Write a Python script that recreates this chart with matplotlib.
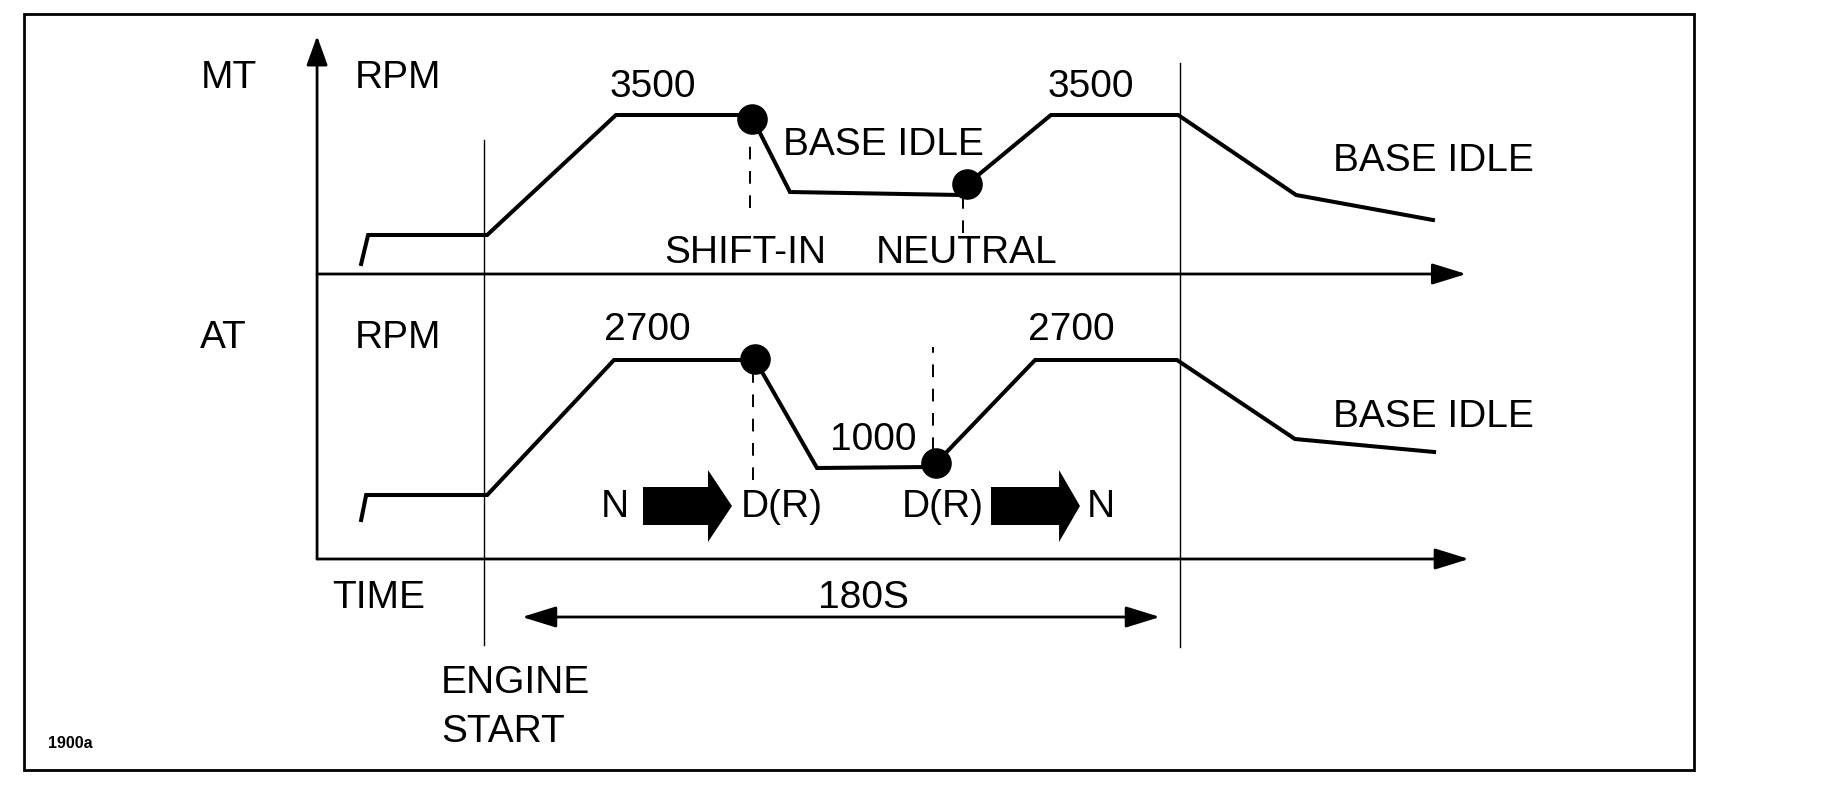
import matplotlib
matplotlib.use("Agg")
import matplotlib.pyplot as plt
from matplotlib.patches import Rectangle, Polygon, FancyArrowPatch

plt.rcParams['font.family'] = ['Liberation Sans', 'DejaVu Sans']

# schematic units: x = seconds after engine start, y = diagram height
mt_base = 531   # height of the MT time axis
at_base = 246   # height of the AT time axis

# MT rpm trace (level above its own time axis)
mt_time = [-31.8, -30.0, 0.8, 34.1, 69.0, 79.1, 123.1, 125.0, 146.6, 179.5, 210.0, 245.4]
mt_level = [10, 39, 39, 159, 159, 82, 79, 90, 159, 159, 79, 54]
mt_dot_time = [69.3, 124.9]
mt_dot_level = [155, 90]
mt_mark_time = [68.8, 123.9]
mt_mark_top = [131, 76]
mt_mark_bottom = [66, 41]

# AT rpm trace
at_time = [-31.8, -30.5, 0.8, 33.6, 70.1, 86.1, 115.3, 116.9, 142.5, 179.2, 209.7, 245.7]
at_level = [39, 64, 64, 199, 199, 91, 92, 96, 199, 199, 120, 107]
at_dot_time = [70.1, 116.9]
at_dot_level = [200, 96]
at_mark_time = [69.6, 116.1]
at_mark_top = [189, 212]
at_mark_bottom = [79, 109]

# gear change block arrows (AT panel)
shift_tail = [41.1, 131.1]
shift_neck = [57.9, 148.7]
shift_tip = [64.1, 154.1]
shift_level = 53
shift_body = 19
shift_head = 36

engine_start = 0
test_end = 180

fig = plt.figure(figsize=(18.49, 8.05), dpi=100)
ax = fig.add_axes([0, 0, 1, 1])
ax.set_xlim(-125.2, 353.0)
ax.set_ylim(0, 805)
ax.axis('off')

# outer frame
ax.add_patch(Rectangle((-119.0, 35), 431.9, 756, fill=False, lw=2, ec='black'))

# axes with arrow heads
ax.add_patch(FancyArrowPatch((-43.2, at_base), (-43.2, 769), arrowstyle='-|>,head_length=18,head_width=6.5',
                             mutation_scale=1, shrinkA=0, shrinkB=0, lw=2, color='black'))
ax.add_patch(FancyArrowPatch((-43.2, mt_base), (254.0, mt_base), arrowstyle='-|>,head_length=21,head_width=6.5',
                             mutation_scale=1, shrinkA=0, shrinkB=0, lw=2, color='black'))
ax.add_patch(FancyArrowPatch((-43.2, at_base), (254.7, at_base), arrowstyle='-|>,head_length=21,head_width=6.5',
                             mutation_scale=1, shrinkA=0, shrinkB=0, lw=2, color='black'))
ax.add_patch(FancyArrowPatch((9.8, 188), (174.8, 188), arrowstyle='<|-|>,head_length=21,head_width=6.5',
                             mutation_scale=1, shrinkA=0, shrinkB=0, lw=2, color='black'))

# engine start and end-of-test lines
ax.plot([engine_start, engine_start], [160, 665], color='black', lw=1)
ax.plot([test_end, test_end], [158, 742], color='black', lw=1)

# rpm traces
ax.plot(mt_time, [mt_base + v for v in mt_level], color='black', lw=2.9, solid_joinstyle='miter')
ax.plot(at_time, [at_base + v for v in at_level], color='black', lw=2.9, solid_joinstyle='miter')

for t, top, bot in zip(mt_mark_time, mt_mark_top, mt_mark_bottom):
    ax.plot([t, t], [mt_base + bot, mt_base + top], color='black', lw=1.4, linestyle=(0, (6.5, 6)))
for t, top, bot in zip(at_mark_time, at_mark_top, at_mark_bottom):
    ax.plot([t, t], [at_base + bot, at_base + top], color='black', lw=1.4, linestyle=(0, (6.5, 6)))

ax.plot(mt_dot_time, [mt_base + v for v in mt_dot_level], 'o', color='black', ms=21, zorder=5)
ax.plot(at_dot_time, [at_base + v for v in at_dot_level], 'o', color='black', ms=21, zorder=5)

for tail, neck, tip in zip(shift_tail, shift_neck, shift_tip):
    c = at_base + shift_level
    pts = [(tail, c - shift_body), (neck, c - shift_body), (neck, c - shift_head), (tip, c),
           (neck, c + shift_head), (neck, c + shift_body), (tail, c + shift_body)]
    ax.add_patch(Polygon(pts, closed=True, color='black', lw=0))

fs = 28
ax.text(-73.4, 717, 'MT', fontsize=fs, ha='left', va='baseline')
ax.text(-33.4, 717, 'RPM', fontsize=fs, ha='left', va='baseline')
ax.text(-73.4, 457, 'AT', fontsize=fs, ha='left', va='baseline')
ax.text(-33.4, 457, 'RPM', fontsize=fs, ha='left', va='baseline')
ax.text(43.7, 708, '3500', fontsize=fs, ha='center', va='baseline')
ax.text(157.0, 708, '3500', fontsize=fs, ha='center', va='baseline')
ax.text(103.4, 650, 'BASE IDLE', fontsize=fs, ha='center', va='baseline')
ax.text(67.5, 542, 'SHIFT-IN', fontsize=fs, ha='center', va='baseline')
ax.text(124.7, 542, 'NEUTRAL', fontsize=fs, ha='center', va='baseline')
ax.text(245.4, 634, 'BASE IDLE', fontsize=fs, ha='center', va='baseline')
ax.text(42.2, 465, '2700', fontsize=fs, ha='center', va='baseline')
ax.text(151.8, 465, '2700', fontsize=fs, ha='center', va='baseline')
ax.text(245.4, 378, 'BASE IDLE', fontsize=fs, ha='center', va='baseline')
ax.text(100.6, 355, '1000', fontsize=fs, ha='center', va='baseline')
ax.text(33.9, 288, 'N', fontsize=fs, ha='center', va='baseline')
ax.text(77.1, 288, 'D(R)', fontsize=fs, ha='center', va='baseline')
ax.text(118.7, 288, 'D(R)', fontsize=fs, ha='center', va='baseline')
ax.text(159.6, 288, 'N', fontsize=fs, ha='center', va='baseline')
ax.text(-27.2, 197, 'TIME', fontsize=fs, ha='center', va='baseline')
ax.text(98.0, 197, '180S', fontsize=fs, ha='center', va='baseline')
ax.text(-11.1, 112, 'ENGINE', fontsize=fs, ha='left', va='baseline')
ax.text(-11.1, 63, 'START', fontsize=fs, ha='left', va='baseline')
ax.text(-107.1, 57, '1900a', fontsize=11.5, fontweight='bold', ha='center', va='baseline')

fig.savefig('out.png', dpi=100, facecolor='white')
